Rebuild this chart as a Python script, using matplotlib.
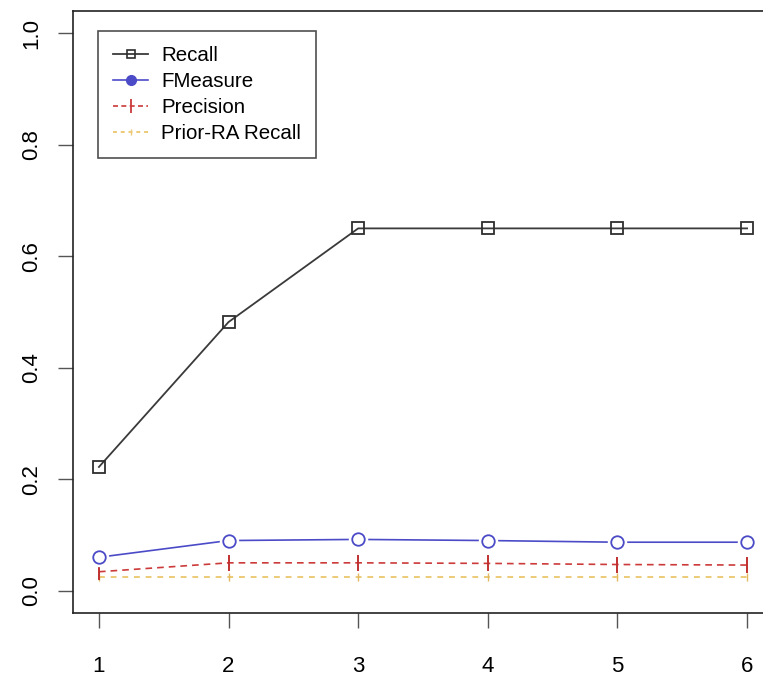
import matplotlib
matplotlib.use("Agg")
import matplotlib.pyplot as plt
from matplotlib.lines import Line2D

plt.rcParams['font.family'] = ['Liberation Sans', 'DejaVu Sans']

x = [1, 2, 3, 4, 5, 6]
recall = [0.222, 0.482, 0.650, 0.650, 0.650, 0.650]
fmeasure = [0.060, 0.090, 0.092, 0.090, 0.087, 0.087]
precision = [0.034, 0.050, 0.050, 0.049, 0.047, 0.046]
prior_recall = [0.025, 0.025, 0.025, 0.025, 0.025, 0.025]
yticks = [0.0, 0.2, 0.4, 0.6, 0.8, 1.0]
labels = ['Recall', 'FMeasure', 'Precision', 'Prior-RA Recall']

c_rec = '#3a3a3a'
c_fm = '#4b4bc8'
c_pr = '#cc3a3a'
c_pa = '#eccb78'

fig = plt.figure(figsize=(7.63, 6.79), dpi=100)
ax = fig.add_axes([73 / 763, 66 / 679, 700 / 763, 602 / 679])

ax.plot(x, prior_recall, color=c_pa, lw=1.4, ls=(0, (3, 3)), marker='|',
        ms=6, mec='#e2b860', mew=1.0)
ax.plot(x, precision, color=c_pr, lw=1.2, ls=(0, (4, 3)), marker='|',
        ms=12, mec='#c03030', mew=1.4)
# FMeasure: line with small gaps round the open circles (R type="b")
ax.plot(x, fmeasure, color=c_fm, lw=1.2)
ax.plot(x, fmeasure, ls='none', marker='o', ms=13, mfc='white', mec='white')
ax.plot(x, fmeasure, ls='none', marker='o', ms=9, mfc='white', mec=c_fm, mew=1.3)
ax.plot(x, recall, color=c_rec, lw=1.3, marker='s', ms=8.5,
        mfc='none', mec='#2e2e2e', mew=1.3)

ax.set_xlim(0.8, 6.2)
ax.set_ylim(-0.04, 1.04)
ax.set_xticks(x)
ax.set_yticks(yticks)
ax.set_yticklabels([f"{v:.1f}" for v in yticks], rotation=90, va='center')
ax.tick_params(axis='both', length=11, width=1.0, color='#555555',
               labelsize=16)
ax.tick_params(axis='y', pad=11)
ax.tick_params(axis='x', pad=20)
for s in ax.spines.values():
    s.set_color('#222222')
    s.set_linewidth(1.2)

handles = [
    Line2D([], [], color=c_rec, lw=1.3, marker='s', ms=6, mfc='none', mec='#2e2e2e', mew=1.2),
    Line2D([], [], color=c_fm, lw=1.2, marker='o', ms=7, mfc=c_fm, mec=c_fm),
    Line2D([], [], color=c_pr, lw=1.2, ls=(0, (3, 2)), marker='|', ms=10, mec=c_pr, mew=1.3),
    Line2D([], [], color=c_pa, lw=1.4, ls=(0, (2, 2)), marker='|', ms=5, mec=c_pa, mew=1.0),
]
leg = ax.legend(handles, labels, loc='upper left', bbox_to_anchor=(0.0357, 0.9668),
                borderaxespad=0, fontsize=14.8, frameon=True, fancybox=False,
                edgecolor='#222222', handlelength=1.7, handletextpad=0.62,
                borderpad=0.75, labelspacing=0.33)
leg.get_frame().set_linewidth(1.2)

fig.savefig("out.png", dpi=100)
